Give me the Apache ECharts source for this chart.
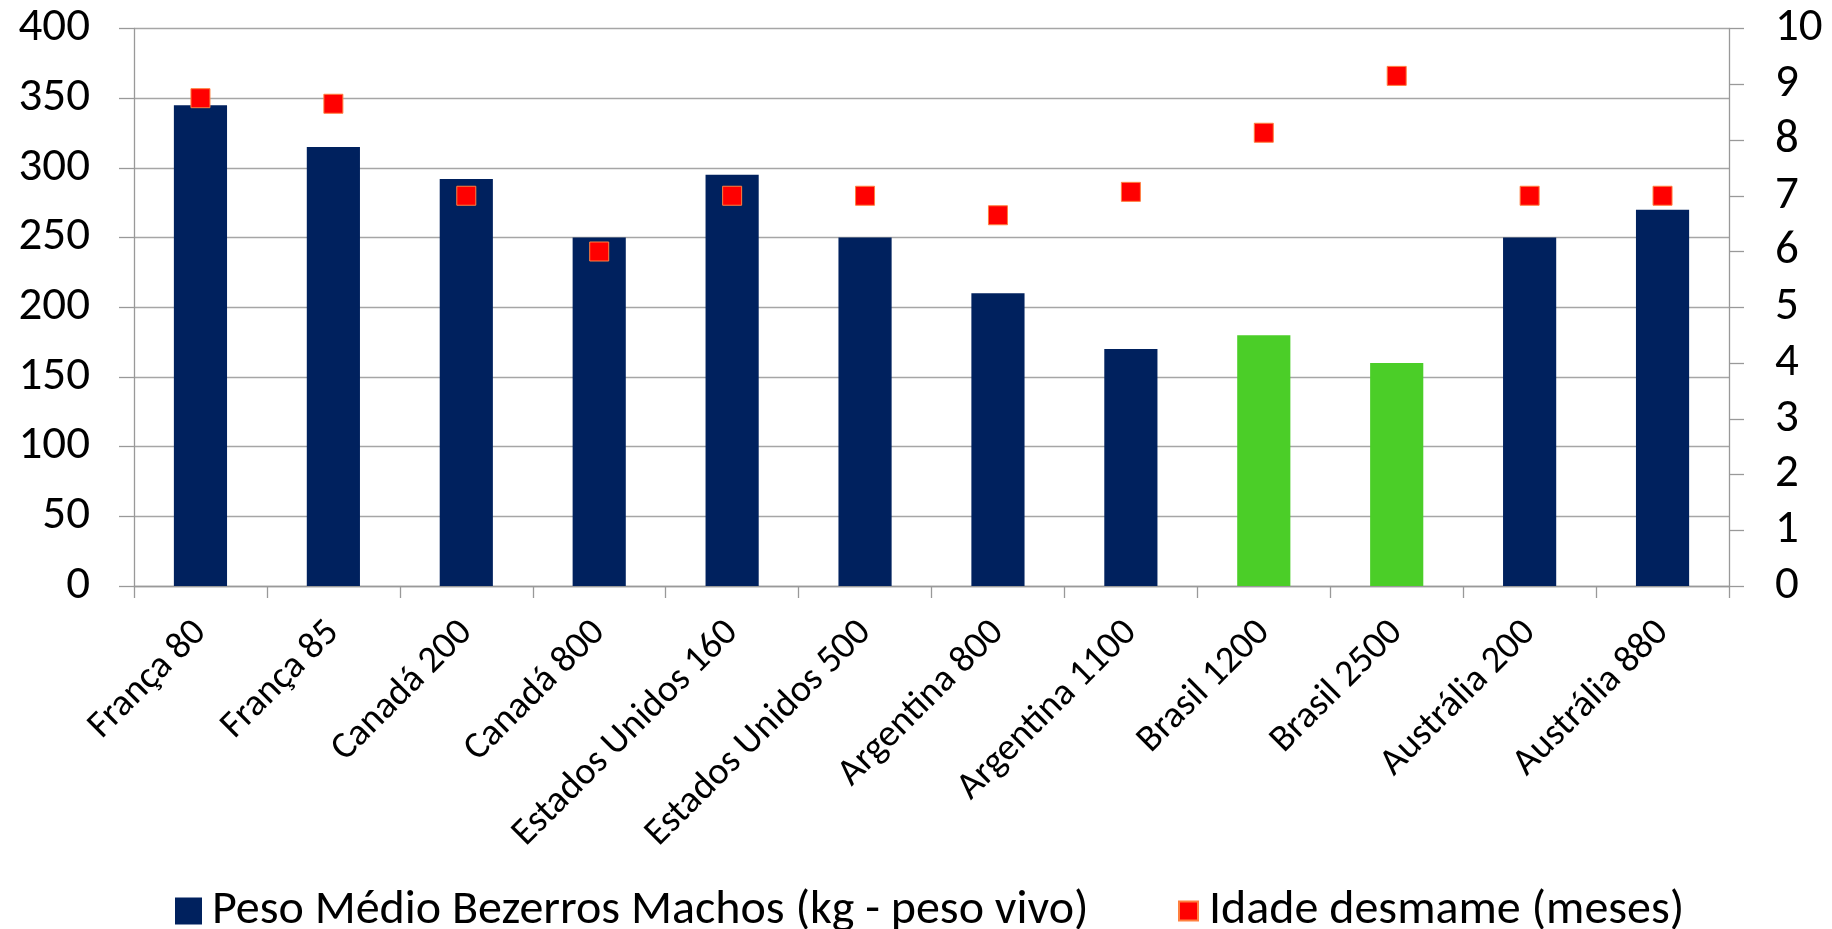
<!DOCTYPE html>
<html>
<head>
<meta charset="utf-8">
<script src="https://cdn.jsdelivr.net/npm/echarts@6/dist/echarts.min.js"></script>
<style>
  html, body { margin: 0; padding: 0; background: #fff; }
  #chart { width: 1832px; height: 929px; }
</style>
</head>
<body>
<div id="chart"></div>
<script>
const categories = [
  "França 80", "França 85", "Canadá 200", "Canadá 800",
  "Estados Unidos 160", "Estados Unidos 500", "Argentina 800", "Argentina 1100",
  "Brasil 1200", "Brasil 2500", "Austrália 200", "Austrália 880"
];
// peso médio bezerros machos (kg)
const pesoValues = [345, 315, 292, 250, 295, 250, 210, 170, 180, 160, 250, 270];
// idade desmame (meses)
const idadeValues = [8.75, 8.65, 7, 6, 7, 7, 6.65, 7.07, 8.13, 9.15, 7, 7];
const highlighted = ["Brasil 1200", "Brasil 2500"];

const pesoName = "Peso Médio Bezerros Machos (kg - peso vivo)";
const idadeName = "Idade desmame (meses)";

const NAVY = "#00215e";
const GREEN = "#4bce28";
const FONT = "Carlito, Lato, sans-serif";

const chart = echarts.init(document.getElementById("chart"));

const options = {
  animation: false,
  textStyle: { fontFamily: FONT, color: "#000" },
  grid: {
    left: 134,
    right: 103,
    top: 28.5,
    bottom: 343,
    containLabel: false,
    outerBoundsMode: "none",
  },
  legend: [
    {
      data: [pesoName],
      left: 170,
      top: 882,
      itemWidth: 27,
      itemHeight: 27,
      icon: "rect",
      textStyle: { fontFamily: FONT, fontSize: 48, color: "#000", padding: [0, 0, 0, 5] },
    },
    {
      data: [idadeName],
      left: 1173,
      top: 882,
      itemWidth: 19,
      itemHeight: 19,
      icon: "rect",
      textStyle: { fontFamily: FONT, fontSize: 48, color: "#000", padding: [0, 0, 0, 6] },
    },
  ],
  xAxis: {
    type: "category",
    data: categories,
    axisLine: { lineStyle: { color: "#999", width: 1.3 } },
    axisTick: { show: true, length: 12, lineStyle: { color: "#999", width: 1.3 } },
    axisLabel: {
      interval: 0,
      rotate: 45,
      margin: 41,
      fontSize: 38,
      fontFamily: FONT,
      color: "#000",
    },
  },
  yAxis: [
    {
      type: "value",
      min: 0,
      max: 400,
      interval: 50,
      axisLine: { show: true, lineStyle: { color: "#999", width: 1.3 } },
      axisTick: { show: true, length: 15, lineStyle: { color: "#999", width: 1.3 } },
      splitLine: { show: true, lineStyle: { color: "#a6a6a6", width: 1.3 } },
      axisLabel: { fontSize: 47, margin: 44, fontFamily: FONT, color: "#000" },
    },
    {
      type: "value",
      min: 0,
      max: 10,
      interval: 1,
      position: "right",
      axisLine: { show: true, lineStyle: { color: "#999", width: 1.3 } },
      axisTick: { show: true, length: 15, lineStyle: { color: "#999", width: 1.3 } },
      splitLine: { show: false },
      axisLabel: { fontSize: 47, margin: 46, fontFamily: FONT, color: "#000" },
    },
  ],
  series: [
    {
      name: pesoName,
      type: "bar",
      yAxisIndex: 0,
      barCategoryGap: "60%",
      itemStyle: { color: NAVY },
      data: pesoValues.map((v, i) =>
        highlighted.includes(categories[i])
          ? { value: v, itemStyle: { color: GREEN } }
          : v
      ),
    },
    {
      name: idadeName,
      type: "scatter",
      yAxisIndex: 1,
      symbol: "rect",
      symbolSize: 19,
      itemStyle: { color: "#ff0000", borderColor: "#ff8040", borderWidth: 1, opacity: 1 },
      data: idadeValues,
    },
  ],
};

chart.setOption(options);
</script>
</body>
</html>
